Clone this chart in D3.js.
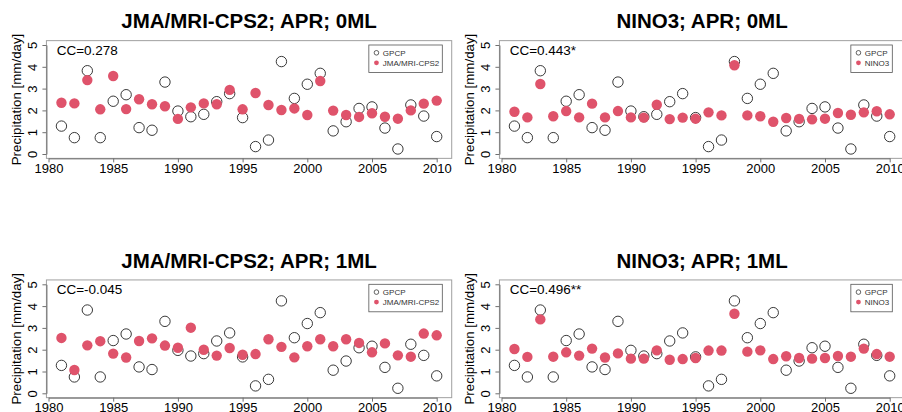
<!DOCTYPE html>
<html><head><meta charset="utf-8">
<script src="https://cdn.jsdelivr.net/npm/d3@7"></script>
<style>body{margin:0;background:#fff} svg{display:block;font-family:"Liberation Sans",Arial,Helvetica,sans-serif}</style>
</head><body><svg id="c" width="902" height="412"></svg>
<script>
const years = [1981,1982,1983,1984,1985,1986,1987,1988,1989,1990,1991,1992,1993,1994,1995,1996,1997,1998,1999,2000,2001,2002,2003,2004,2005,2006,2007,2008,2009,2010];
const gpcp  = [1.28,0.75,3.82,0.75,2.42,2.72,1.21,1.09,3.30,1.97,1.71,1.82,2.40,2.77,1.67,0.34,0.64,4.24,2.55,3.20,3.70,1.06,1.48,2.09,2.16,1.19,0.23,2.25,1.74,0.80];
const jma0  = [2.35,2.32,3.39,2.05,3.58,2.06,2.51,2.28,2.19,1.61,2.14,2.32,2.28,2.94,2.05,2.80,2.25,2.02,2.09,1.79,3.35,1.99,1.79,1.70,1.87,1.71,1.62,2.00,2.31,2.45];
const nino0 = [1.94,1.68,3.21,1.73,1.97,1.68,2.31,1.68,1.97,1.68,1.67,2.26,1.60,1.67,1.62,1.91,1.77,4.07,1.77,1.73,1.48,1.65,1.61,1.59,1.62,1.88,1.80,1.91,1.96,1.82];
const jma1  = [2.54,1.07,2.20,2.39,1.82,1.64,2.40,2.52,2.19,2.09,3.01,2.00,1.73,2.08,1.77,1.80,2.48,2.13,1.65,2.16,2.48,2.16,2.48,2.31,1.88,2.29,1.74,1.68,2.74,2.66];
const nino1 = [2.03,1.67,3.39,1.68,1.88,1.73,2.05,1.64,1.83,1.59,1.59,1.97,1.54,1.57,1.62,1.96,1.96,3.65,1.91,1.97,1.57,1.70,1.62,1.59,1.62,1.71,1.68,2.05,1.80,1.68];
const xTicks = [1980,1985,1990,1995,2000,2005,2010];
const yTicks = [0,1,2,3,4,5];
const titles = ["JMA/MRI-CPS2; APR; 0ML","NINO3; APR; 0ML","JMA/MRI-CPS2; APR; 1ML","NINO3; APR; 1ML"];
const ccLabels = ["CC=0.278","CC=0.443*","CC=-0.045","CC=0.496**"];
const modelNames = ["JMA/MRI-CPS2","NINO3","JMA/MRI-CPS2","NINO3"];
const modelValues = [jma0, nino0, jma1, nino1];
const obsName = "GPCP";
const yLabel = "Precipitation [mm/day]";

// layout
const offX = [0, 453, 0, 453];
const offY = [0, 0, 239.3, 239.3];
const legendRight = [442.3, 439.3, 442.3, 439.3];
const RED = "#DF536B";

const svg = d3.select("#c");
const x = d3.scaleLinear().domain([1980, 2010]).range([48.5, 436.7]);
const y = d3.scaleLinear().domain([0, 5]).range([154, 45]);
const bx0 = x(1979.84), bx1 = x(2011.16), by0 = y(5.2), by1 = y(-0.2);

titles.forEach((t, i) => {
  const g = svg.append("g").attr("transform", `translate(${offX[i]},${offY[i]})`);
  g.append("text").attr("x", (bx0 + bx1) / 2).attr("y", 28.3)
    .attr("text-anchor", "middle").attr("font-weight", "bold").attr("font-size", 20.5)
    .attr("fill", "#000").text(t);

  // box
  g.append("rect").attr("x", bx0).attr("y", by0).attr("width", bx1 - bx0).attr("height", by1 - by0)
    .attr("fill", "none").attr("stroke", "#a0a0a0").attr("stroke-width", 1);

  // x axis
  const xa = g.append("g").attr("transform", `translate(0,${by1})`)
    .call(d3.axisBottom(x).tickValues(xTicks).tickFormat(d3.format("d")).tickSize(4).tickSizeOuter(0));
  xa.select(".domain").attr("stroke", "#707070");
  xa.selectAll(".tick line").attr("stroke", "#707070");
  xa.selectAll(".tick text").attr("y", 14.6).attr("dy", 0).attr("font-size", 13)
    .attr("font-family", "Liberation Sans, Arial, sans-serif").attr("fill", "#000");

  // y axis
  const ya = g.append("g").attr("transform", `translate(${bx0},0)`)
    .call(d3.axisLeft(y).tickValues(yTicks).tickFormat(d3.format("d")).tickSize(4).tickSizeOuter(0));
  ya.select(".domain").attr("stroke", "#707070");
  ya.selectAll(".tick line").attr("stroke", "#707070");
  ya.selectAll(".tick text").attr("x", 0).attr("dy", 0).attr("y", 0)
    .attr("transform", "translate(-9.7,0) rotate(-90)").attr("text-anchor", "middle")
    .attr("font-size", 13).attr("font-family", "Liberation Sans, Arial, sans-serif").attr("fill", "#000");

  // y label
  g.append("text").attr("transform", `translate(21,${(by0 + by1) / 2}) rotate(-90)`)
    .attr("text-anchor", "middle").attr("font-size", 13.3).attr("fill", "#000").text(yLabel);

  // CC
  g.append("text").attr("x", 56.7).attr("y", 55).attr("font-size", 13.5).attr("fill", "#000").text(ccLabels[i]);

  // observations
  g.append("g").selectAll("circle").data(years).join("circle")
    .attr("cx", d => x(d)).attr("cy", (d, j) => y(gpcp[j])).attr("r", 5.2)
    .attr("fill", "none").attr("stroke", "#222").attr("stroke-width", 0.9);
  // model
  g.append("g").selectAll("circle").data(years).join("circle")
    .attr("cx", d => x(d)).attr("cy", (d, j) => y(modelValues[i][j])).attr("r", 5.2)
    .attr("fill", RED);

  // legend
  const lg = g.append("g");
  const fs = 8;
  const t1 = lg.append("text").attr("font-size", fs).attr("fill", "#333").text(obsName);
  const t2 = lg.append("text").attr("font-size", fs).attr("fill", "#333").text(modelNames[i]);
  const tw = Math.max(t1.node().getComputedTextLength(), t2.node().getComputedTextLength());
  const lw = 14 + tw + 3;
  const lx = legendRight[i] - lw, ly = 45;
  lg.insert("rect", ":first-child").attr("x", lx).attr("y", ly).attr("width", lw).attr("height", 27.5)
    .attr("fill", "#fff").attr("stroke", "#555").attr("stroke-width", 0.8);
  t1.attr("x", lx + 14).attr("y", ly + 10.7);
  t2.attr("x", lx + 14).attr("y", ly + 20.7);
  lg.append("circle").attr("cx", lx + 7.6).attr("cy", ly + 7.8).attr("r", 2.3)
    .attr("fill", "none").attr("stroke", "#222").attr("stroke-width", 0.7);
  lg.append("circle").attr("cx", lx + 7.6).attr("cy", ly + 17.8).attr("r", 2.4).attr("fill", RED);
});
</script></body></html>
